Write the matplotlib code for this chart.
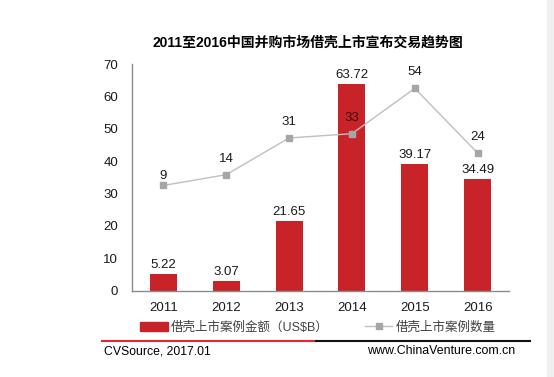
import matplotlib
matplotlib.use('Agg')
import matplotlib.pyplot as plt
from matplotlib.lines import Line2D
import matplotlib.patches as mpatches

plt.rcParams['font.family'] = ['Liberation Sans', 'Noto Sans CJK SC', 'DejaVu Sans']

years = ['2011', '2012', '2013', '2014', '2015', '2016']
amounts = [5.22, 3.07, 21.65, 63.72, 39.17, 34.49]
counts = [9, 14, 31, 33, 54, 24]
bar_label = '借壳上市案例金额（US$B）'
line_label = '借壳上市案例数量'
title = '2011至2016中国并购市场借壳上市宣布交易趋势图'

red = '#c9232a'
grey = '#a6a6a6'

fig = plt.figure(figsize=(5.54, 3.77), dpi=100)
fig.patches.append(mpatches.Rectangle((0.988, 0), 0.012, 1, transform=fig.transFigure,
                                      color='#f0f0f0', zorder=0))

ax = fig.add_axes([0.238, 0.229, 0.681, 0.601])
x = list(range(len(years)))
ax.bar(x, amounts, width=0.43, color=red, zorder=2)
for xi, v in zip(x, amounts):
    ax.annotate(f'{v:.2f}', (xi, v), xytext=(0, 6.5), textcoords='offset points',
                ha='center', va='center', fontsize=9.5, color='#1a1a1a')

ax.set_xlim(-0.5, 5.5)
ax.set_ylim(0, 70)
ax.set_yticks(range(0, 71, 10))
ax.set_xticks(x)
ax.set_xticklabels(years)
ax.tick_params(length=0, labelsize=9.5, colors='#1a1a1a', pad=8)
ax.tick_params(axis='y', pad=10)
for s in ['top', 'right']:
    ax.spines[s].set_visible(False)
for s in ['left', 'bottom']:
    ax.spines[s].set_color('#8c8c8c')
    ax.spines[s].set_linewidth(1)

ax2 = ax.twinx()
ax2.plot(x, counts, color='#bfbfbf', lw=1, marker='s', ms=5,
         markerfacecolor=grey, markeredgecolor=grey, zorder=3)
ax2.set_ylim(-39.75, 65.25)
ax2.axis('off')
for xi, c in zip(x, counts):
    dy = 6.5 if xi == 0 else 11.5
    ax2.annotate(str(c), (xi, c), xytext=(0, dy), textcoords='offset points',
                 ha='center', va='center', fontsize=9.5,
                 color='#3a0a0a' if xi == 3 else '#1a1a1a')

fig.text(0.556, 0.888, title, ha='center', va='center', fontsize=10, fontweight='bold')

handles = [mpatches.Patch(color=red, label=bar_label),
           Line2D([0], [0], color='#bfbfbf', lw=1, marker='s', ms=4,
                  markerfacecolor=grey, markeredgecolor=grey, label=line_label)]
fig.legend(handles=handles, loc='center left', bbox_to_anchor=(0.244, 0.131), ncol=2,
           frameon=False, fontsize=9, handlelength=2.2, handletextpad=0.25,
           columnspacing=2.9, borderaxespad=0, labelcolor='#404040')

fig.add_artist(Line2D([0.184, 0.571], [0.095, 0.095], color='#e8262e', lw=1.5,
                      transform=fig.transFigure))
fig.add_artist(Line2D([0.571, 0.957], [0.095, 0.095], color='#111111', lw=1.5,
                      transform=fig.transFigure))
fig.text(0.188, 0.068, 'CVSource, 2017.01', ha='left', va='center', fontsize=8.8)
fig.text(0.929, 0.068, 'www.ChinaVenture.com.cn', ha='right', va='center', fontsize=8.9)

fig.savefig('out.png', dpi=100)
